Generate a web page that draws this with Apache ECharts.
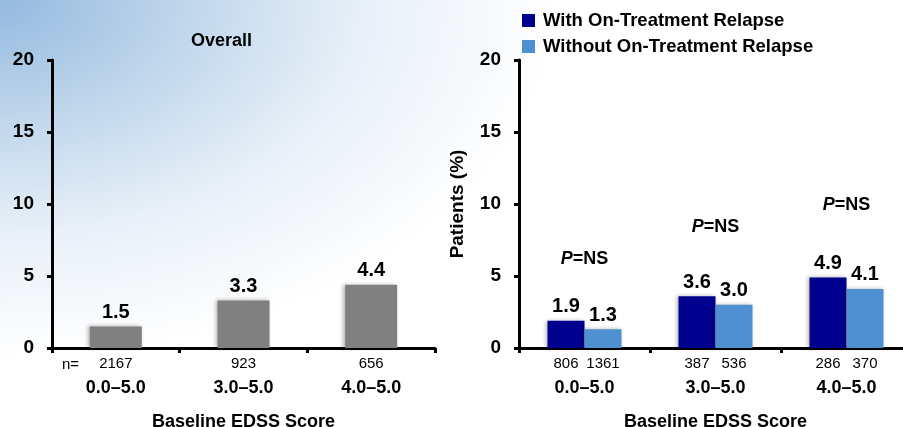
<!DOCTYPE html>
<html>
<head>
<meta charset="utf-8">
<script src="https://cdn.jsdelivr.net/npm/echarts@6/dist/echarts.min.js"></script>
<style>
  html, body { margin: 0; padding: 0; }
  body {
    width: 903px; height: 427px; overflow: hidden;
    background: radial-gradient(ellipse 560px 360px at 0 0, #94badf 0%, #c2d8ed 35%, #e8f0f8 65%, #ffffff 100%);
  }
  #chart { width: 903px; height: 427px; }
</style>
</head>
<body>
<div id="chart"></div>
<script>
const categories = ['0.0–5.0', '3.0–5.0', '4.0–5.0']
const overall = [1.5, 3.3, 4.4]
const nOverall = [2167, 923, 656]
const withRelapse = [1.9, 3.6, 4.9]
const withoutRelapse = [1.3, 3.0, 4.1]
const nWith = [806, 387, 286]
const nWithout = [1361, 536, 370]
const pLabels = ['NS', 'NS', 'NS']
const pLabelLevel = [6.2, 8.4, 9.95]
const yTicks = [0, 5, 10, 15, 20]

const font = '"Liberation Sans", Arial, sans-serif'
const black = '#000'

const chart = echarts.init(document.getElementById('chart'), null, { renderer: 'canvas' })

const yAxisBase = {
  type: 'value',
  min: yTicks[0],
  max: yTicks[yTicks.length - 1],
  interval: 5,
  splitLine: { show: false },
  axisLine: { show: true, lineStyle: { color: black, width: 3 } },
  axisTick: { show: true, length: 5, lineStyle: { color: black, width: 3 } },
  axisLabel: { margin: 18, fontSize: 19, fontWeight: 'bold', color: black, fontFamily: font },
}

const xAxisBase = {
  type: 'category',
  data: categories,
  axisLine: { lineStyle: { color: black, width: 3 } },
  axisTick: { show: true, length: 5, lineStyle: { color: black, width: 3 } },
  name: 'Baseline EDSS Score',
  nameLocation: 'middle',
  nameGap: 65,
  nameTextStyle: { fontSize: 18, fontWeight: 'bold', color: black, fontFamily: font },
}

const valueLabel = {
  show: true, position: 'top', distance: 4,
  fontSize: 20, fontWeight: 'bold', color: black, fontFamily: font,
  formatter: (p) => p.value.toFixed(1),
}

const barShadow = { shadowBlur: 4, shadowColor: 'rgba(0,0,0,0.3)', shadowOffsetX: -2 }

chart.setOption({
  animation: false,
  backgroundColor: 'transparent',
  textStyle: { fontFamily: font },
  title: [
    { text: 'Overall', left: 186, top: 27, textStyle: { fontSize: 18, fontWeight: 'bold', color: black, fontFamily: font } },
    { text: 'n=', left: 62, top: 357, padding: 0, textStyle: { fontSize: 15, fontWeight: 'normal', color: black, fontFamily: font } },
  ],
  legend: {
    data: ['With On-Treatment Relapse', 'Without On-Treatment Relapse'],
    orient: 'vertical',
    left: 517,
    top: 6,
    icon: 'rect',
    itemWidth: 13,
    itemHeight: 13,
    itemGap: 7,
    textStyle: { fontSize: 18.5, fontWeight: 'bold', color: black, fontFamily: font, padding: [0, 0, 0, 3] },
  },
  grid: [
    { left: 52, right: 468, top: 60, bottom: 79, outerBoundsMode: 'none' },
    { left: 519, right: -9, top: 60, bottom: 79, outerBoundsMode: 'none' },
  ],
  xAxis: [
    {
      ...xAxisBase,
      gridIndex: 0,
      axisLabel: {
        margin: 4, interval: 0, color: black, fontFamily: font,
        formatter: (v, i) => `{n|${nOverall[i]}}\n{c|${v}}`,
        rich: {
          n: { fontSize: 15, lineHeight: 24, color: black, fontFamily: font },
          c: { fontSize: 18, fontWeight: 'bold', lineHeight: 24, color: black, fontFamily: font },
        },
      },
    },
    {
      ...xAxisBase,
      gridIndex: 1,
      axisLabel: {
        margin: 4, interval: 0, color: black, fontFamily: font,
        formatter: (v, i) => `{a|${nWith[i]}}{b|${nWithout[i]}}\n{c|${v}}`,
        rich: {
          a: { fontSize: 15, lineHeight: 24, width: 37, align: 'center', color: black, fontFamily: font },
          b: { fontSize: 15, lineHeight: 24, width: 37, align: 'center', color: black, fontFamily: font },
          c: { fontSize: 18, fontWeight: 'bold', lineHeight: 24, color: black, fontFamily: font },
        },
      },
    },
  ],
  yAxis: [
    { ...yAxisBase, gridIndex: 0 },
    {
      ...yAxisBase,
      gridIndex: 1,
      name: 'Patients (%)',
      nameLocation: 'middle',
      nameGap: 52,
      nameTextStyle: { fontSize: 19, fontWeight: 'bold', color: black, fontFamily: font },
    },
  ],
  series: [
    {
      name: 'Overall',
      type: 'bar',
      xAxisIndex: 0, yAxisIndex: 0,
      barWidth: 52,
      data: overall,
      itemStyle: { color: '#808080', ...barShadow },
      label: valueLabel,
    },
    {
      name: 'With On-Treatment Relapse',
      type: 'bar',
      xAxisIndex: 1, yAxisIndex: 1,
      barWidth: 37,
      barGap: '0%',
      data: withRelapse,
      itemStyle: { color: '#00008f', ...barShadow },
      label: valueLabel,
    },
    {
      name: 'Without On-Treatment Relapse',
      type: 'bar',
      xAxisIndex: 1, yAxisIndex: 1,
      barWidth: 37,
      barGap: '0%',
      data: withoutRelapse,
      itemStyle: { color: '#4f90d0', ...barShadow },
      label: valueLabel,
    },
    {
      name: 'P value',
      type: 'scatter',
      xAxisIndex: 1, yAxisIndex: 1,
      symbolSize: 1,
      itemStyle: { color: 'rgba(0,0,0,0)', opacity: 1 },
      data: pLabelLevel.map((y, i) => [i, y]),
      label: {
        show: true, position: 'inside', color: black, opacity: 1, textBorderWidth: 0,
        formatter: (p) => `{i|P}{b|=${pLabels[p.dataIndex]}}`,
        rich: {
          i: { fontSize: 18, fontWeight: 'bold', fontStyle: 'italic', color: black, fontFamily: font, textBorderWidth: 0 },
          b: { fontSize: 18, fontWeight: 'bold', color: black, fontFamily: font, textBorderWidth: 0 },
        },
      },
    },
  ],
})
</script>
</body>
</html>
